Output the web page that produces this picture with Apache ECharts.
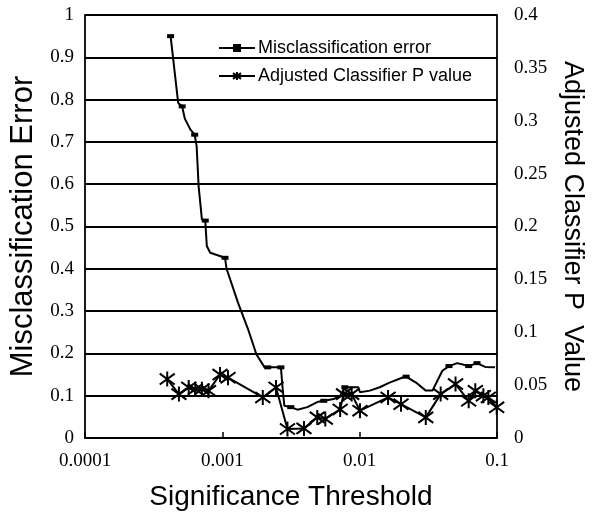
<!DOCTYPE html>
<html><head><meta charset="utf-8">
<script src="https://cdn.jsdelivr.net/npm/echarts@6/dist/echarts.min.js"></script>
<style>html,body{margin:0;padding:0;background:#fff}#c{width:594px;height:516px}</style>
</head><body><div id="c"></div>
<script>
// ---- data ----
const xTickLabels = ['0.0001', '0.001', '0.01', '0.1'];
const leftTickLabels = ['0', '0.1', '0.2', '0.3', '0.4', '0.5', '0.6', '0.7', '0.8', '0.9', '1'];
const rightTickLabels = ['0', '0.05', '0.1', '0.15', '0.2', '0.25', '0.3', '0.35', '0.4'];

const seriesNames = ['Misclassification error', 'Adjusted Classifier P value'];

const misX = [4.2e-4, 4.77e-4, 5.10e-4, 5.33e-4, 5.86e-4, 6.29e-4, 6.50e-4, 6.72e-4, 7.10e-4, 7.51e-4,
  7.71e-4, 8.16e-4, 1.046e-3, 1.074e-3, 1.30e-3, 1.54e-3, 1.77e-3, 2.03e-3, 2.14e-3, 2.53e-3,
  2.67e-3, 2.75e-3, 2.83e-3, 3.15e-3, 3.52e-3, 4.16e-3, 4.91e-3, 5.48e-3, 6.47e-3, 7.21e-3,
  7.80e-3, 9.79e-3, 1.005e-2, 1.186e-2, 1.40e-2, 1.65e-2, 2.06e-2, 2.18e-2, 2.57e-2, 3.03e-2,
  3.39e-2, 4.00e-2, 4.47e-2, 5.13e-2, 6.22e-2, 7.15e-2, 8.20e-2, 9.68e-2];
const misY = [0.95, 0.792, 0.784, 0.755, 0.729, 0.717, 0.69, 0.595, 0.517, 0.514,
  0.454, 0.438, 0.426, 0.40, 0.32, 0.257, 0.198, 0.167, 0.167, 0.167,
  0.167, 0.116, 0.076, 0.073, 0.067, 0.073, 0.085, 0.088, 0.092, 0.10,
  0.12, 0.12, 0.108, 0.112, 0.12, 0.131, 0.143, 0.145, 0.131, 0.112,
  0.112, 0.159, 0.170, 0.177, 0.170, 0.177, 0.168, 0.167];
// indices of points drawn with a marker
const misMarked = [0, 2, 5, 9, 12, 18, 20, 23, 27, 30, 37, 42, 44, 45];

const pX = [3.97e-4, 4.83e-4, 5.69e-4, 6.36e-4, 7.10e-4, 7.93e-4, 9.62e-4, 1.10e-3, 1.97e-3, 2.46e-3,
  2.98e-3, 3.93e-3, 4.91e-3, 5.62e-3, 7.21e-3, 7.63e-3, 8.75e-3, 1.005e-2, 1.61e-2, 2.0e-2,
  3.03e-2, 3.89e-2, 4.99e-2, 6.22e-2, 6.95e-2, 7.96e-2, 8.65e-2, 9.95e-2];
const pY = [0.0557, 0.0415, 0.0478, 0.0462, 0.0462, 0.0446, 0.060, 0.057, 0.0384, 0.0478,
  0.0085, 0.0091, 0.0195, 0.018, 0.027, 0.0415, 0.0415, 0.0258, 0.0384, 0.032,
  0.0195, 0.0415, 0.051, 0.0352, 0.0446, 0.040, 0.0384, 0.029];

// ---- chart ----
const chart = echarts.init(document.getElementById('c'), null, {renderer: 'canvas'});
const serif = 'Liberation Serif';
const sans = 'Liberation Sans';
const asterisk = 'path://M-4,-4L4,4M-4,4L4,-4M0,-5.5L0,5.5';

chart.setOption({
  animation: false,
  backgroundColor: '#fff',
  grid: {left: 85, right: 92, top: 15, bottom: 77, containLabel: false},
  legend: {
    orient: 'vertical', left: 213, top: 34, itemGap: 10,
    itemWidth: 36, itemHeight: 10,
    textStyle: {fontFamily: sans, fontSize: 18, color: '#000', padding: [0, 0, 0, -2]},
    data: seriesNames
  },
  xAxis: {
    type: 'log', logBase: 10, min: 0.0001, max: 0.1,
    name: 'Significance Threshold', nameLocation: 'middle', nameGap: 45,
    nameTextStyle: {fontFamily: sans, fontSize: 28, color: '#000'},
    axisLine: {show: true, lineStyle: {color: '#000', width: 1.8}},
    axisTick: {show: true, inside: true, length: 6, lineStyle: {color: '#000', width: 1.5}},
    minorTick: {show: false},
    splitLine: {show: false},
    axisLabel: {
      fontFamily: serif, fontSize: 19, color: '#000', margin: 14,
      formatter: v => xTickLabels[Math.round(Math.log10(v)) + 4]
    }
  },
  yAxis: [{
    type: 'value', min: 0, max: 1, interval: 0.1,
    name: 'Misclassification Error', nameLocation: 'middle', nameGap: 42,
    nameTextStyle: {fontFamily: sans, fontSize: 31, color: '#000'},
    axisLine: {show: true, lineStyle: {color: '#000', width: 1.8}},
    axisTick: {show: false},
    splitLine: {show: true, lineStyle: {color: '#000', width: 2}},
    axisLabel: {
      fontFamily: serif, fontSize: 19, color: '#000', margin: 11,
      formatter: v => leftTickLabels[Math.round(v * 10)]
    }
  }, {
    type: 'value', min: 0, max: 0.4, interval: 0.05, position: 'right',
    name: 'Adjusted Classifier P  Value', nameLocation: 'middle', nameGap: 62, nameRotate: -90,
    nameTextStyle: {fontFamily: sans, fontSize: 27, color: '#000'},
    axisLine: {show: true, lineStyle: {color: '#000', width: 1.8}},
    axisTick: {show: false},
    splitLine: {show: false},
    axisLabel: {
      fontFamily: serif, fontSize: 19, color: '#000', margin: 17,
      formatter: v => rightTickLabels[Math.round(v * 20)]
    }
  }],
  series: [{
    name: seriesNames[0], type: 'line', yAxisIndex: 0,
    data: misX.map((x, i) => [x, misY[i]]),
    showAllSymbol: true,
    symbol: 'rect',
    symbolSize: (v, p) => (p && misMarked.includes(p.dataIndex)) ? [7, 4] : 0,
    lineStyle: {color: '#000', width: 2},
    itemStyle: {color: '#000'},
    z: 3
  }, {
    name: seriesNames[1], type: 'line', yAxisIndex: 1,
    data: pX.map((x, i) => [x, pY[i]]),
    showAllSymbol: true,
    symbol: asterisk, symbolSize: 15,
    lineStyle: {color: '#000', width: 2},
    itemStyle: {color: '#000', borderColor: '#000', borderWidth: 2},
    z: 3
  }]
});
</script>
</body></html>
